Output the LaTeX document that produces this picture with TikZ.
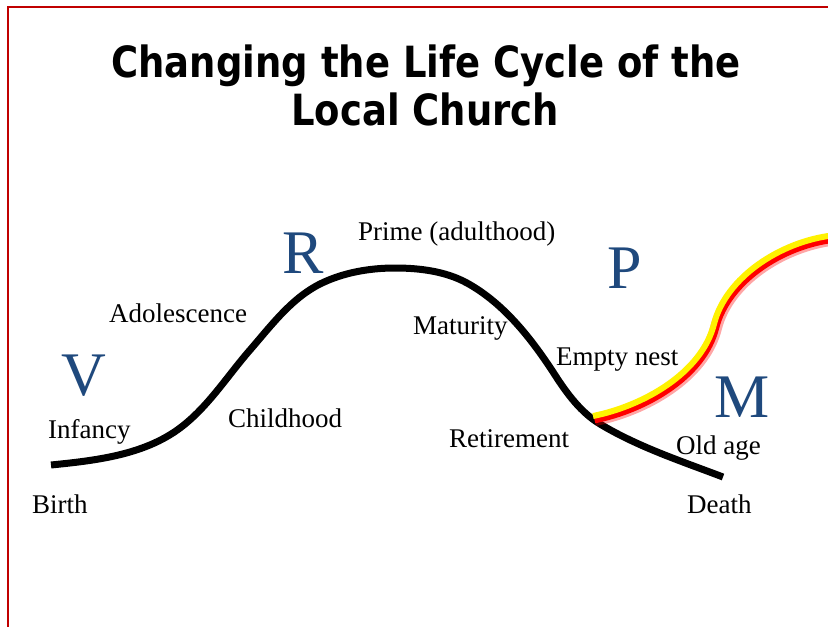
\documentclass[tikz,border=0pt]{standalone}
\usepackage{fontspec}
\setmainfont{Liberation Serif}
\newfontfamily\titlefont[FakeStretch=0.86]{DejaVu Sans}
\definecolor{bigblue}{HTML}{1F497D}
\definecolor{frame}{HTML}{C00000}
\begin{document}
\begin{tikzpicture}[x=1pt,y=-1pt,
  lbl/.style={anchor=base west,inner sep=0pt,font=\fontsize{27}{30}\selectfont},
  big/.style={anchor=base west,inner sep=0pt,text=bigblue,font=\fontsize{62}{70}\selectfont},
  ttl/.style={anchor=base,inner sep=0pt,font=\titlefont\bfseries\fontsize{43}{50}\selectfont},
  newcurve/.style={line cap=butt}]
\useasboundingbox (0,0) rectangle (828,627);
\fill[white] (0,0) rectangle (828,627);
% frame
\draw[frame,line width=1.3pt] (828,7) -- (8,7) -- (8,630);
% title
\node[ttl] (t1) at (426,77) {Changing the Life Cycle of the};
\node[ttl] (t2) at (425,125) {Local Church};
% main curve
\draw[line width=7pt] (51,465)
  .. controls (95.8,460.5) and (144,455) .. (180,428)
  .. controls (208,407) and (227,376.4) .. (250,350)
  .. controls (271,325.8) and (291.4,298.3) .. (320,284)
  .. controls (342.9,272.6) and (369.4,268) .. (395,268)
  .. controls (419.5,268) and (445.5,271.2) .. (467,283)
  .. controls (504.1,303.4) and (532,339.4) .. (555,375)
  .. controls (567,393.6) and (581,412.6) .. (600,424)
  .. controls (638.3,447) and (681.2,461.1) .. (723,477);
% new curve with red glow
\draw[newcurve,red,opacity=0.35,line width=12pt,shift={(2,3)}] (593,417)
  .. controls (642.7,407.1) and (701.7,374.2) .. (714,325)
  .. controls (725.7,278.4) and (780.3,242.7) .. (832,236.5);
\draw[newcurve,red,line width=7.5pt,shift={(1.5,2.6)}] (593,417)
  .. controls (642.7,407.1) and (701.7,374.2) .. (714,325)
  .. controls (725.7,278.4) and (780.3,242.7) .. (832,236.5);
\draw[newcurve,yellow,line width=6pt] (593,416)
  .. controls (642.7,406.1) and (701.7,373.2) .. (714,324)
  .. controls (725.7,277.4) and (780.3,241.7) .. (832,235.5);
% big letters
\node[big] (V) at (61,395) {V};
\node[big] (R) at (282,273) {R};
\node[big] (P) at (607,288) {P};
\node[big] (M) at (714,417) {M};
% labels
\node[lbl] (birth) at (32,513) {Birth};
\node[lbl] (infancy) at (48,438) {Infancy};
\node[lbl] (child) at (228,427) {Childhood};
\node[lbl] (adol) at (109,322) {Adolescence};
\node[lbl] (prime) at (358,240) {Prime (adulthood)};
\node[lbl] (matur) at (413,334) {Maturity};
\node[lbl] (empty) at (556,365) {Empty nest};
\node[lbl] (retir) at (449,447) {Retirement};
\node[lbl] (old) at (676,454) {Old age};
\node[lbl] (death) at (687,513) {Death};
\end{tikzpicture}
\end{document}
